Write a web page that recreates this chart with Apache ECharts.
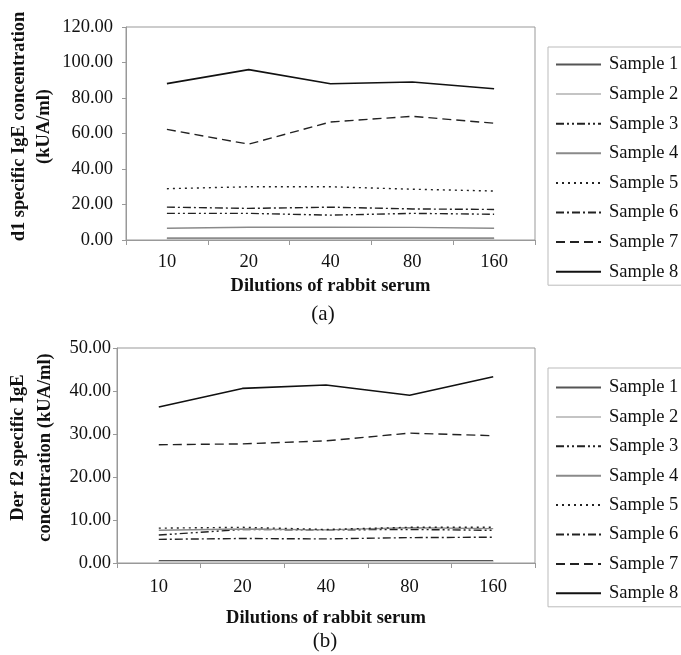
<!DOCTYPE html>
<html>
<head>
<meta charset="utf-8">
<script src="https://cdn.jsdelivr.net/npm/echarts@6/dist/echarts.min.js"></script>
<style>html,body{margin:0;padding:0;background:#fff}#c{width:681px;height:655px}</style>
</head>
<body>
<div id="c"></div>
<script>
const categories = ['10', '20', '40', '80', '160'];
const seriesNames = ['Sample 1', 'Sample 2', 'Sample 3', 'Sample 4', 'Sample 5', 'Sample 6', 'Sample 7', 'Sample 8'];

// Chart (a): d1 specific IgE
const a_s1 = [0.9, 0.9, 0.9, 0.9, 0.9];
const a_s2 = [0.4, 0.4, 0.4, 0.4, 0.4];
const a_s3 = [15.0, 15.0, 14.0, 15.0, 14.5];
const a_s4 = [6.6, 7.2, 7.2, 7.1, 6.6];
const a_s5 = [28.9, 30.0, 30.0, 28.6, 27.6];
const a_s6 = [18.5, 17.8, 18.5, 17.5, 17.2];
const a_s7 = [62.3, 54.0, 66.5, 69.7, 65.8];
const a_s8 = [88.1, 96.0, 88.0, 89.0, 85.2];

// Chart (b): Der f2 specific IgE
const b_s1 = [0.5, 0.5, 0.5, 0.5, 0.5];
const b_s2 = [0.3, 0.3, 0.3, 0.3, 0.3];
const b_s3 = [6.5, 7.8, 7.7, 7.8, 7.6];
const b_s4 = [7.6, 7.9, 7.7, 8.2, 8.0];
const b_s5 = [8.1, 8.3, 7.8, 8.3, 8.3];
const b_s6 = [5.5, 5.7, 5.6, 5.9, 6.0];
const b_s7 = [27.5, 27.7, 28.4, 30.2, 29.6];
const b_s8 = [36.3, 40.6, 41.4, 39.0, 43.3];

const yTicksA = { min: 0, max: 120, interval: 20 };
const yTicksB = { min: 0, max: 50, interval: 10 };

const aData = [a_s1, a_s2, a_s3, a_s4, a_s5, a_s6, a_s7, a_s8];
const bData = [b_s1, b_s2, b_s3, b_s4, b_s5, b_s6, b_s7, b_s8];

const styles = [
  { color: '#555', width: 1.6, type: 'solid' },
  { color: '#c4c4c4', width: 1.4, type: 'solid' },
  { color: '#222', width: 1.4, type: [8, 3, 2, 3, 2, 3] },
  { color: '#8a8a8a', width: 1.4, type: 'solid' },
  { color: '#222', width: 1.4, type: [2, 4] },
  { color: '#222', width: 1.4, type: [8, 3, 2, 3] },
  { color: '#222', width: 1.4, type: [9, 5] },
  { color: '#111', width: 1.6, type: 'solid' }
];

const font = '"Liberation Serif", "Times New Roman", serif';
const FS = 18.5;

function makeSeries(data, idx) {
  return data.map((d, i) => ({
    name: seriesNames[i],
    type: 'line',
    xAxisIndex: idx,
    yAxisIndex: idx,
    data: d,
    symbol: 'none',
    showSymbol: false,
    silent: true,
    animation: false,
    color: styles[i].color,
    lineStyle: { color: styles[i].color, width: styles[i].width, type: styles[i].type }
  }));
}

function xAxis(gridIndex, nameGap, margin) {
  return {
    type: 'category', gridIndex, data: categories, boundaryGap: true,
    name: 'Dilutions of rabbit serum', nameLocation: 'middle', nameGap,
    nameMoveOverlap: false,
    nameTextStyle: { fontFamily: font, fontWeight: 'bold', fontSize: FS, color: '#111' },
    axisLine: { lineStyle: { color: '#999', width: 1 } },
    axisTick: { show: true, length: 5, inside: false, lineStyle: { color: '#999' } },
    axisLabel: { fontFamily: font, fontSize: FS, color: '#111', margin },
    splitLine: { show: false }
  };
}

function yAxis(gridIndex, ticks, name, nameGap, lineHeight, shiftPad, margin) {
  return {
    type: 'value', gridIndex, min: ticks.min, max: ticks.max, interval: ticks.interval,
    name, nameLocation: 'middle', nameGap, nameRotate: 90,
    nameMoveOverlap: false,
    nameTextStyle: { fontFamily: font, fontWeight: 'bold', fontSize: FS, color: '#111', lineHeight, padding: [0, 0, 0, shiftPad] },
    axisLine: { show: true, lineStyle: { color: '#999', width: 1 } },
    axisTick: { show: true, length: 4, lineStyle: { color: '#999' } },
    axisLabel: { fontFamily: font, fontSize: FS, color: '#111', margin, formatter: v => v.toFixed(2) },
    splitLine: { show: false }
  };
}

function legend(top, padTop, gap) {
  return {
    data: seriesNames, orient: 'vertical', left: 548, top, width: 140,
    itemWidth: 45, itemHeight: 10, itemGap: gap,
    padding: [padTop, 10, 4, 7],
    borderColor: '#bbb', borderWidth: 1,
    selectedMode: false,
    itemStyle: { color: 'transparent', borderWidth: 0, opacity: 0 },
    textStyle: { fontFamily: font, fontSize: FS, lineHeight: 18, color: '#111', padding: [0, 0, 0, 3] }
  };
}

const chart = echarts.init(document.getElementById('c'), null, { renderer: 'canvas' });
chart.setOption({
  animation: false,
  backgroundColor: '#fff',
  title: [
    { text: '(a)', left: 318, top: 299, textAlign: 'center', textStyle: { fontFamily: font, fontWeight: 'normal', fontSize: 21, color: '#111' } },
    { text: '(b)', left: 320, top: 626, textAlign: 'center', textStyle: { fontFamily: font, fontWeight: 'normal', fontSize: 21, color: '#111' } }
  ],
  grid: [
    { left: 126, top: 27, width: 409, height: 213, show: true, borderColor: '#999', borderWidth: 1, containLabel: false, outerBoundsMode: 'none' },
    { left: 117, top: 348, width: 418, height: 215, show: true, borderColor: '#999', borderWidth: 1, containLabel: false, outerBoundsMode: 'none' }
  ],
  xAxis: [xAxis(0, 37, 13), xAxis(1, 46, 15)],
  yAxis: [
    yAxis(0, yTicksA, 'd1 specific IgE concentration\n(kUA/ml)', 69, 25, 14, 13),
    yAxis(1, yTicksB, 'Der f2 specific IgE\nconcentration (kUA/ml)', 58, 27, 16, 6)
  ],
  legend: [legend(47, 8, 10.6), legend(368, 10, 10.4)],
  series: [...makeSeries(aData, 0), ...makeSeries(bData, 1)]
});
</script>
</body>
</html>
